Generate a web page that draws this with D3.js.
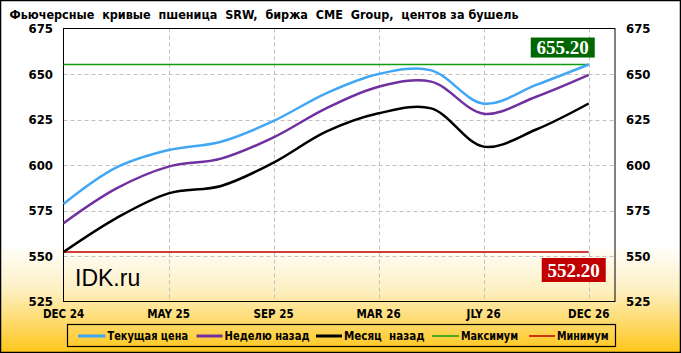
<!DOCTYPE html>
<html><head><meta charset="utf-8">
<script src="https://cdn.jsdelivr.net/npm/d3@7"></script>
<style>html,body{margin:0;padding:0;background:#fff;}svg{display:block;}text{white-space:pre;}</style>
</head><body>
<script>
const categories = ["DEC 24","MAR 25","MAY 25","JUL 25","SEP 25","DEC 25","MAR 26","MAY 26","JLY 26","SEP 26","DEC 26"];
const xTickLabels = ["DEC 24","MAY 25","SEP 25","MAR 26","JLY 26","DEC 26"];
const yTicks = [525,550,575,600,625,650,675];
const current = [578.6, 598.5, 608.2, 612.8, 624.2, 639.4, 650.0, 652.0, 633.7, 644.0, 655.2];
const weekAgo = [568.0, 587.0, 599.1, 603.5, 615.2, 631.1, 643.0, 645.8, 628.2, 637.5, 649.5];
const monthAgo = [552.2, 570.7, 584.4, 588.5, 601.3, 618.3, 628.4, 631.1, 610.1, 619.5, 633.8];
const seriesNames = ["Текущая цена","Неделю назад","Месяц  назад","Максимум","Минимум"];
const title = "Фьючерсные  кривые  пшеница  SRW,  биржа  CME  Group,  центов за бушель";

const W = 681, H = 353;
const L = 63.5, R = 615, T = 28.5, B = 301.5;
const svg = d3.select("body").append("svg").attr("width", W).attr("height", H);
const defs = svg.append("defs");
const grad = defs.append("linearGradient").attr("id","bg").attr("x1",0).attr("y1",0).attr("x2",0).attr("y2",1);
grad.append("stop").attr("offset","0%").attr("stop-color","#ffffff");
grad.append("stop").attr("offset","69%").attr("stop-color","#ffffff");
grad.append("stop").attr("offset","82%").attr("stop-color","#fdf0c4");
grad.append("stop").attr("offset","100%").attr("stop-color","#ffc61a");
svg.append("rect").attr("x",0.5).attr("y",0.5).attr("width",W-1).attr("height",H-1)
  .attr("fill","url(#bg)").attr("stroke","#000").attr("stroke-width",1.5);

const x = d3.scaleLinear().domain([0, 10.5]).range([L, R]);
const y = d3.scaleLinear().domain([525, 675]).range([B, T]);
const font = "'DejaVu Sans Condensed','DejaVu Sans',sans-serif";

// gridlines
const g = svg.append("g");
g.selectAll(".hg").data(yTicks.filter(v => v > 525 && v < 675)).join("line")
  .attr("x1", L).attr("x2", R).attr("y1", d => Math.round(y(d))+0.5).attr("y2", d => Math.round(y(d))+0.5)
  .attr("stroke","#c0c0c0").attr("stroke-dasharray","4,3").attr("stroke-width",1);
const tickIdx = xTickLabels.map(t => categories.indexOf(t));
g.selectAll(".vg").data(tickIdx.filter(i => i > 0)).join("line")
  .attr("x1", d => Math.round(x(d))+0.5).attr("x2", d => Math.round(x(d))+0.5).attr("y1", T).attr("y2", B)
  .attr("stroke","#c0c0c0").attr("stroke-dasharray","4,3").attr("stroke-width",1);

// plot border
svg.append("rect").attr("x",L).attr("y",T).attr("width",R-L).attr("height",B-T)
  .attr("fill","none").attr("stroke","#000").attr("stroke-width",1);

// axes labels
svg.append("g").selectAll("text").data(yTicks).join("text")
  .attr("x", 53).attr("y", d => y(d)).attr("dy","0.36em").attr("text-anchor","end")
  .attr("font-family",font).attr("font-weight","bold").attr("font-size",13).text(d => d);
svg.append("g").selectAll("text").data(yTicks).join("text")
  .attr("x", 626).attr("y", d => y(d)).attr("dy","0.36em").attr("text-anchor","start")
  .attr("font-family",font).attr("font-weight","bold").attr("font-size",13).text(d => d);
svg.append("g").selectAll("text").data(xTickLabels).join("text")
  .attr("x", d => x(categories.indexOf(d))).attr("y", 314).attr("dy","0.36em").attr("text-anchor","middle")
  .attr("font-family",font).attr("font-weight","bold").attr("font-size",11.5).text(d => d);

// IDK.ru
svg.append("text").attr("x",75).attr("y",286).attr("font-family","'Liberation Sans',Arial,sans-serif")
  .attr("font-size",23).attr("fill","#000").text("IDK.ru");

// max/min
const all = current.concat(weekAgo, monthAgo);
const maxV = d3.max(all), minV = d3.min(all);
const x0 = x(0), x10 = x(categories.length-1);
svg.append("line").attr("x1",x0).attr("x2",x10).attr("y1",y(maxV)).attr("y2",y(maxV)).attr("stroke","#109c10").attr("stroke-width",1.5);
svg.append("line").attr("x1",x0).attr("x2",x10).attr("y1",y(minV)).attr("y2",y(minV)).attr("stroke","#c00000").attr("stroke-width",1.5);

// lines
const line = d3.line().x((d,i) => x(i)).y(d => y(d)).curve(d3.curveCatmullRom.alpha(0.5));
const series = [
  {v: monthAgo, c: "#000000"},
  {v: weekAgo, c: "#7030a0"},
  {v: current, c: "#41a7f5"}
];
svg.append("g").selectAll("path").data(series).join("path")
  .attr("d", d => line(d.v)).attr("fill","none").attr("stroke", d => d.c).attr("stroke-width",2.5);

// value boxes
const fmt = d3.format(".2f");
const gb = svg.append("g");
gb.append("rect").attr("x", x10-58).attr("y", y(maxV)-27).attr("width",64).attr("height",20).attr("fill","#006600");
gb.append("text").attr("x", x10-26).attr("y", y(maxV)-17).attr("dy","0.35em").attr("text-anchor","middle")
  .attr("font-family","'Liberation Serif','Times New Roman',serif").attr("font-weight","bold").attr("font-size",19)
  .attr("fill","#fff").text(fmt(maxV));
gb.append("rect").attr("x", x10-47).attr("y", y(minV)+6).attr("width",64).attr("height",24).attr("fill","#c00000");
gb.append("text").attr("x", x10-15).attr("y", y(minV)+18).attr("dy","0.35em").attr("text-anchor","middle")
  .attr("font-family","'Liberation Serif','Times New Roman',serif").attr("font-weight","bold").attr("font-size",19)
  .attr("fill","#fff").text(fmt(minV));

// title
svg.append("text").attr("x",9.5).attr("y",19).attr("font-family",font).attr("font-weight","bold")
  .attr("font-size",12.5).attr("textLength",509).attr("lengthAdjust","spacingAndGlyphs").text(title);

// legend
svg.append("rect").attr("x",67.5).attr("y",324.5).attr("width",548).attr("height",22)
  .attr("fill","none").attr("stroke","#000").attr("stroke-width",1.2);
const legend = [
  {name: seriesNames[0], c:"#41a7f5", w:3, x1:78, x2:105.5, tx:107.5, tl:80.5},
  {name: seriesNames[1], c:"#7030a0", w:3, x1:196.5, x2:222.5, tx:224.5, tl:85},
  {name: seriesNames[2], c:"#000000", w:3, x1:316, x2:342, tx:344, tl:80.5},
  {name: seriesNames[3], c:"#109c10", w:1.5, x1:432, x2:459, tx:461, tl:57},
  {name: seriesNames[4], c:"#c00000", w:1.5, x1:529, x2:555, tx:557, tl:51.5}
];
const lg = svg.append("g").selectAll("g").data(legend).join("g");
lg.append("line").attr("x1",d=>d.x1).attr("x2",d=>d.x2).attr("y1",336).attr("y2",336)
  .attr("stroke",d=>d.c).attr("stroke-width",d=>d.w);
lg.append("text").attr("x",d=>d.tx).attr("y",336).attr("dy","0.36em").attr("font-family",font)
  .attr("font-weight","bold").attr("font-size",12).attr("textLength",d=>d.tl).attr("lengthAdjust","spacingAndGlyphs")
  .text(d=>d.name);
</script>
</body></html>
